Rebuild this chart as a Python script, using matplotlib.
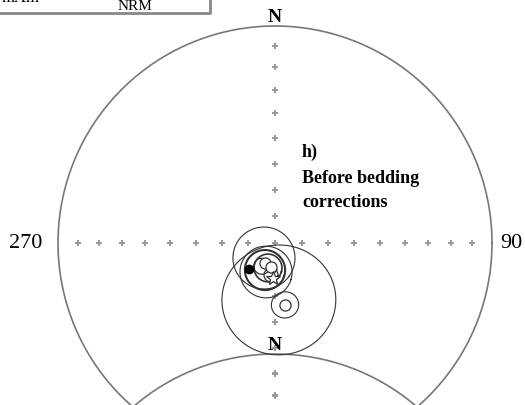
import numpy as np
import matplotlib.pyplot as plt
from matplotlib.lines import Line2D

plt.rcParams['font.family'] = ['Liberation Serif', 'DejaVu Serif']

# site mean directions (declination, inclination, alpha95) - before bedding correction
dec = [216.3, 176.1, 197.2, 200.3, 195.7, 209.5, 187.1, 170.8]
inc = [83.0, 68.2, 78.6, 79.2, 80.3, 80.0, 77.9, 66.4]
a95 = [11.6, 21.0, 9.7, 7.5, 5.2, 3.0, 2.6, 5.0]
lw_cone = [0.8, 0.8, 0.8, 1.5, 1.2, 0.9, 0.9, 0.8]

# individual directions (open symbols)
pt_dec = [170.8, 206.0, 190.0]
pt_inc = [66.4, 81.8, 80.8]
# filled symbol
fill_dec = [225.0]
fill_inc = [76.2]
# mean direction (star)
mean_dec = [183.3]
mean_inc = [76.9]

tick_inc = np.arange(10, 90, 10)


def proj(d, i):
    d = np.radians(d)
    r = np.sqrt(2) * np.sin(np.radians(90 - np.abs(i)) / 2)
    return r * np.sin(d), r * np.cos(d)


def cone(d, i, a, n=200):
    d, i, a = np.radians(d), np.radians(i), np.radians(a)
    v = np.array([np.cos(i) * np.cos(d), np.cos(i) * np.sin(d), np.sin(i)])
    u = np.cross(v, [0, 0, 1.0])
    u /= np.linalg.norm(u)
    w = np.cross(v, u)
    t = np.linspace(0, 2 * np.pi, n)
    p = (np.cos(a) * v[:, None] + np.sin(a) * (np.cos(t) * u[:, None] + np.sin(t) * w[:, None]))
    dd = np.degrees(np.arctan2(p[1], p[0]))
    ii = np.degrees(np.arcsin(np.clip(p[2], -1, 1)))
    return proj(dd, ii)


fig = plt.figure(figsize=(5.25, 4.05), dpi=100)
ax = fig.add_axes([0, 0, 1, 1])
s = 217.0
ax.set_xlim(-275 / s, 250 / s)
ax.set_ylim((243 - 405) / s, 243 / s)
ax.axis('off')


def net(cy, labels=True):
    t = np.linspace(0, 2 * np.pi, 400)
    ax.plot(np.cos(t), np.sin(t) + cy, color='#777777', lw=1.2)
    for az in [0, 90, 180, 270]:
        x, y = proj(np.full(len(tick_inc), az), tick_inc)
        ax.plot(x, y + cy, '+', color='#999999', ms=4.5, mew=1.4)
    ax.plot(0, cy, '+', color='#999999', ms=4.5, mew=1.4)
    ax.text(0, 1.018 + cy, 'N', ha='center', va='baseline', fontsize=14, fontweight='bold')
    if labels:
        ax.text(-1.074, cy, '270', ha='right', va='center', fontsize=16)
        ax.text(1.037, cy, '90', ha='left', va='center', fontsize=16)


net(0)
net(-(571 - 243) / s, labels=False)

for d, i, a, l in zip(dec, inc, a95, lw_cone):
    x, y = cone(d, i, a)
    ax.plot(x, y, color='#333333', lw=l)

x, y = proj(np.array(pt_dec), np.array(pt_inc))
ax.plot(x, y, 'o', mfc='white', mec='#333333', ms=8, mew=0.9)
x, y = proj(np.array(fill_dec), np.array(fill_inc))
ax.plot(x, y, 'o', color='black', ms=6)
x, y = proj(np.array(mean_dec), np.array(mean_inc))
ax.plot(x, y, '*', mfc='white', mec='#333333', ms=10, mew=0.9)

ax.text(0.124, (243 - 157) / s, 'h)', fontsize=13, fontweight='bold', va='baseline')
ax.text(0.124, (243 - 183) / s, 'Before bedding', fontsize=13, fontweight='bold', va='baseline')
ax.text(0.124, (243 - 207) / s, 'corrections', fontsize=13, fontweight='bold', va='baseline')

# piece of the legend box above
fig.add_artist(Line2D([0, 210 / 525, 210 / 525], [1 - 13 / 405, 1 - 13 / 405, 1.01],
                      color='#888888', lw=2, transform=fig.transFigure))
fig.text(118 / 525, 1 - 10 / 405, 'NRM', fontsize=11, va='baseline')
fig.text(2 / 525, 1 - 2 / 405, 'mAm', fontsize=12, va='baseline')

plt.savefig('out.png', dpi=100)
